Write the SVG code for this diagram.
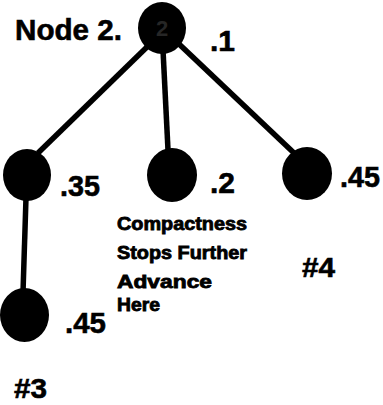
<svg xmlns="http://www.w3.org/2000/svg" width="383" height="405" viewBox="0 0 383 405">
<style>
.bg{fill:#fff}
.node{fill:#000}
.edge{stroke:#000;stroke-width:5.5;stroke-linecap:butt;fill:none}
.t{font-family:"Liberation Sans",Arial,sans-serif;font-weight:bold;fill:#000;stroke:#000;stroke-width:0.6}
.big{font-size:30px}
.num{font-size:30px}
.tag{font-size:27px}
.note{font-size:18px;stroke-width:0.8}
.inner{font-family:"Liberation Sans",Arial,sans-serif;font-weight:bold;font-size:22px;fill:#262626}
</style>
<rect class="bg" x="0" y="0" width="383" height="405"/>
<g id="connectors">
<line class="edge" x1="148" y1="46" x2="38" y2="153"/>
<line class="edge" x1="163" y1="50" x2="168" y2="150"/>
<line class="edge" x1="179" y1="44" x2="294" y2="153"/>
<line class="edge" x1="26" y1="198" x2="23" y2="292"/>
</g>
<g id="node2">
<ellipse class="node" cx="162" cy="28" rx="24" ry="26"/>
<text class="inner" x="162" y="36" text-anchor="middle">2</text>
<text class="t big" x="15" y="40" textLength="107" lengthAdjust="spacingAndGlyphs">Node 2.</text>
<text class="t num" x="210" y="51">.1</text>
</g>
<g id="nodeLeft">
<ellipse class="node" cx="27" cy="175" rx="24" ry="26"/>
<text class="t num" x="60" y="196" textLength="40" lengthAdjust="spacingAndGlyphs">.35</text>
</g>
<g id="nodeMiddle">
<ellipse class="node" cx="172" cy="175" rx="25" ry="27"/>
<text class="t num" x="210" y="193" textLength="25" lengthAdjust="spacingAndGlyphs">.2</text>
<text class="t note" x="117" y="230" textLength="130" lengthAdjust="spacingAndGlyphs">Compactness</text>
<text class="t note" x="117" y="259" textLength="130" lengthAdjust="spacingAndGlyphs">Stops Further</text>
<text class="t note" x="117" y="288" textLength="95" lengthAdjust="spacingAndGlyphs">Advance</text>
<text class="t note" x="117" y="311" textLength="43" lengthAdjust="spacingAndGlyphs">Here</text>
</g>
<g id="nodeRight">
<ellipse class="node" cx="307" cy="173.5" rx="25" ry="26.5"/>
<text class="t num" x="340" y="187" textLength="40" lengthAdjust="spacingAndGlyphs">.45</text>
<text class="t tag" x="302" y="277" textLength="33" lengthAdjust="spacingAndGlyphs">#4</text>
</g>
<g id="nodeBottom">
<ellipse class="node" cx="24.5" cy="315" rx="24.5" ry="27"/>
<text class="t num" x="65" y="333" textLength="41" lengthAdjust="spacingAndGlyphs">.45</text>
<text class="t tag" x="14" y="398" textLength="33" lengthAdjust="spacingAndGlyphs">#3</text>
</g>
</svg>
